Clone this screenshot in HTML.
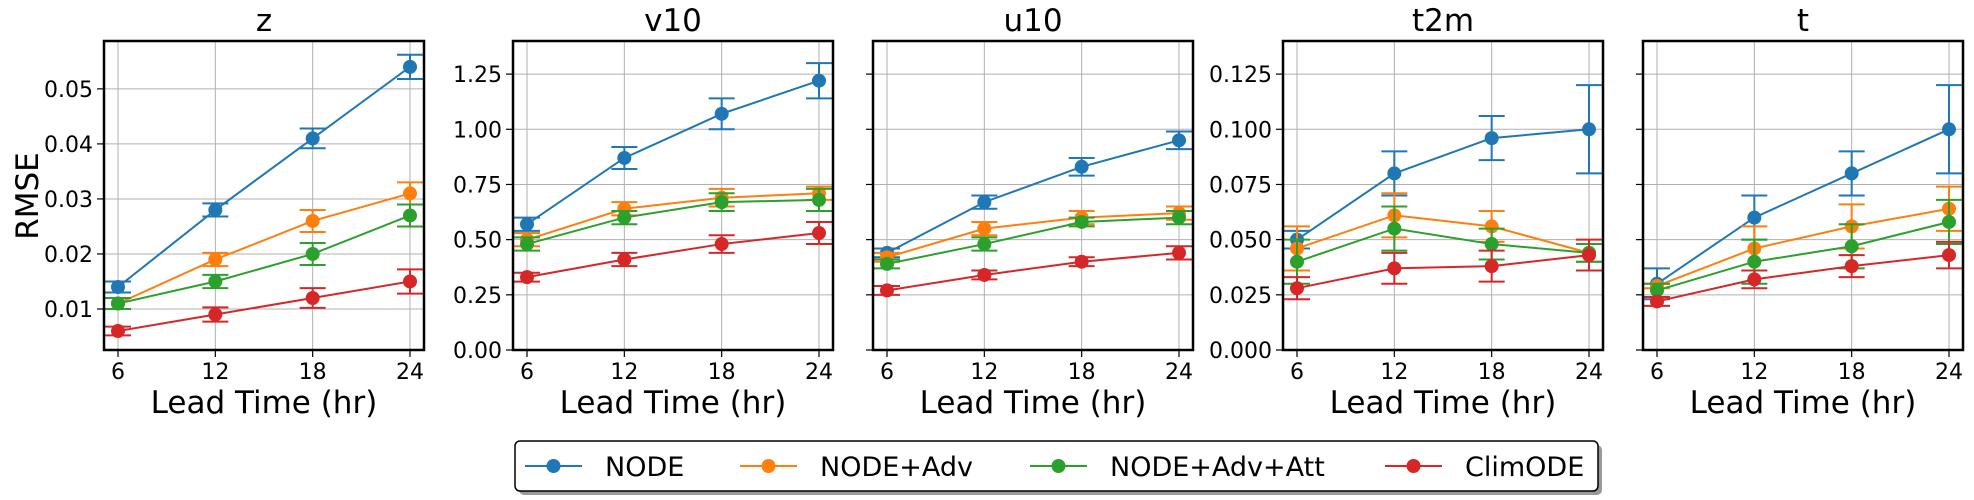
<!DOCTYPE html>
<html><head><meta charset="utf-8"><style>
body{margin:0;background:#fff}
svg{display:block;font-family:"DejaVu Sans","Liberation Sans",sans-serif}
</style></head><body>
<svg id="fig" width="1974" height="500" viewBox="0 0 1974 500"></svg>
<script>
const leadTimes=[6,12,18,24];
const seriesNames=["NODE","NODE+Adv","NODE+Adv+Att","ClimODE"];
const colors=["#1f77b4","#ff7f0e","#2ca02c","#d62728"];
const panelTitles=["z","v10","u10","t2m","t"];
const zVals=[[0.014,0.028,0.041,0.054],[0.011,0.019,0.026,0.031],[0.011,0.015,0.020,0.027],[0.006,0.009,0.012,0.015]];
const zErr=[[0.001,0.0012,0.0018,0.0022],[0.001,0.0012,0.002,0.002],[0.001,0.0012,0.002,0.002],[0.0008,0.0013,0.0018,0.0022]];
const v10Vals=[[0.57,0.87,1.07,1.22],[0.50,0.64,0.69,0.71],[0.48,0.60,0.67,0.68],[0.33,0.41,0.48,0.53]];
const v10Err=[[0.03,0.05,0.07,0.08],[0.03,0.03,0.04,0.03],[0.03,0.03,0.04,0.05],[0.02,0.03,0.04,0.05]];
const u10Vals=[[0.44,0.67,0.83,0.95],[0.42,0.55,0.60,0.62],[0.39,0.48,0.58,0.60],[0.27,0.34,0.40,0.44]];
const u10Err=[[0.02,0.03,0.04,0.04],[0.02,0.03,0.03,0.03],[0.02,0.03,0.02,0.03],[0.02,0.02,0.02,0.03]];
const t2mVals=[[0.050,0.080,0.096,0.100],[0.046,0.061,0.056,0.044],[0.040,0.055,0.048,0.044],[0.028,0.037,0.038,0.043]];
const t2mErr=[[0.004,0.010,0.010,0.020],[0.010,0.010,0.007,0.004],[0.010,0.010,0.007,0.004],[0.005,0.007,0.007,0.007]];
const tVals=[[0.030,0.060,0.080,0.100],[0.029,0.046,0.056,0.064],[0.027,0.040,0.047,0.058],[0.022,0.032,0.038,0.043]];
const tErr=[[0.007,0.010,0.010,0.020],[0.001,0.010,0.010,0.010],[0.003,0.010,0.010,0.010],[0.002,0.004,0.005,0.006]];
const zTicks=["0.01","0.02","0.03","0.04","0.05"];
const windTicks=["0.00","0.25","0.50","0.75","1.00","1.25"];
const tempTicks=["0.000","0.025","0.050","0.075","0.100","0.125"];
const xTickLabels=["6","12","18","24"];

const NS="http://www.w3.org/2000/svg";
const svg=document.getElementById('fig');
function mk(tag,attrs,parent){const e=document.createElementNS(NS,tag);for(const k in attrs)e.setAttribute(k,attrs[k]);(parent||svg).appendChild(e);return e;}

const TOP=41,BOT=350,W=320;
const panels=[
 {left:104,vals:zVals,err:zErr,ymin:0.00255,ymax:0.0587,ticks:zTicks,labels:true},
 {left:513,vals:v10Vals,err:v10Err,ymin:0,ymax:1.4,ticks:windTicks,labels:true},
 {left:873,vals:u10Vals,err:u10Err,ymin:0,ymax:1.4,ticks:windTicks,labels:false},
 {left:1283,vals:t2mVals,err:t2mErr,ymin:0,ymax:0.14,ticks:tempTicks,labels:true},
 {left:1643,vals:tVals,err:tErr,ymin:0,ymax:0.14,ticks:tempTicks,labels:false}
];

panels.forEach((p,pi)=>{
  const g=mk('g',{});
  
  
  const xs=v=>p.left+14+(v-6)/18*(W-28);
  const ys=v=>BOT-(v-p.ymin)/(p.ymax-p.ymin)*(BOT-TOP);
  leadTimes.forEach(t=>{mk('line',{x1:xs(t),x2:xs(t),y1:TOP,y2:BOT,stroke:'#b0b0b0','stroke-width':1},g);});
  p.ticks.forEach(tl=>{const y=ys(parseFloat(tl));mk('line',{x1:p.left,x2:p.left+W,y1:y,y2:y,stroke:'#b0b0b0','stroke-width':1},g);
    mk('line',{x1:p.left-7,x2:p.left,y1:y,y2:y,stroke:'#000','stroke-width':1.2},g);
    if(p.labels){const tx=mk('text',{x:p.left-11,y:y+8,'text-anchor':'end','font-size':22,fill:'#000'},g);tx.textContent=tl;
      
      }
  });
  leadTimes.forEach((t,i)=>{const x=xs(t);mk('line',{x1:x,x2:x,y1:BOT,y2:BOT+7,stroke:'#000','stroke-width':1.2},g);
    const tx=mk('text',{x:x,y:BOT+29,'text-anchor':'middle','font-size':22,fill:'#000'},g);tx.textContent=xTickLabels[i];
    
    });
  p.vals.forEach((sv,si)=>{
    const c=colors[si];
    const pts=sv.map((v,i)=>xs(leadTimes[i])+','+ys(v)).join(' ');
    const pl=mk('polyline',{points:pts,fill:'none',stroke:c,'stroke-width':2},g);
    
    
    sv.forEach((v,i)=>{
      const x=xs(leadTimes[i]),e=p.err[si][i],y1=ys(v+e),y2=ys(v-e);
      mk('line',{x1:x,x2:x,y1:y1,y2:y2,stroke:c,'stroke-width':2},g);
      mk('line',{x1:x-13,x2:x+13,y1:y1,y2:y1,stroke:c,'stroke-width':2},g);
      mk('line',{x1:x-13,x2:x+13,y1:y2,y2:y2,stroke:c,'stroke-width':2},g);
      const m=mk('circle',{cx:x,cy:ys(v),r:7,fill:c},g);
      
      
    });
  });
  mk('rect',{x:p.left,y:TOP,width:W,height:BOT-TOP,fill:'none',stroke:'#000','stroke-width':2.5},g);
  const tt=mk('text',{x:p.left+W/2,y:31,'text-anchor':'middle','font-size':31,fill:'#000'},g);tt.textContent=panelTitles[pi];
  
  
  const xl=mk('text',{x:p.left+W/2,y:413,'text-anchor':'middle','font-size':31,fill:'#000'},g);xl.textContent='Lead Time (hr)';
  
  
});
const yl=mk('text',{x:0,y:0,'text-anchor':'middle','font-size':31,fill:'#000',transform:'translate(38,196) rotate(-90)'});
yl.textContent='RMSE';



const lg=mk('g',{});


mk('rect',{x:519,y:445,width:1083,height:50,rx:5,fill:'#999'},lg);
mk('rect',{x:515,y:441,width:1083,height:50,rx:5,fill:'#fff',stroke:'#000','stroke-width':1.5},lg);
const legX=[525,740,1030,1385];
seriesNames.forEach((n,i)=>{
  const eg=mk('g',{},lg);
  
  
  mk('line',{x1:legX[i],x2:legX[i]+57,y1:466,y2:466,stroke:colors[i],'stroke-width':2},eg);
  mk('circle',{cx:legX[i]+28.5,cy:466,r:7,fill:colors[i]},eg);
  const t=mk('text',{x:legX[i]+80,y:476,'font-size':27,fill:'#000'},eg);t.textContent=n;
});
</script>
</body></html>
